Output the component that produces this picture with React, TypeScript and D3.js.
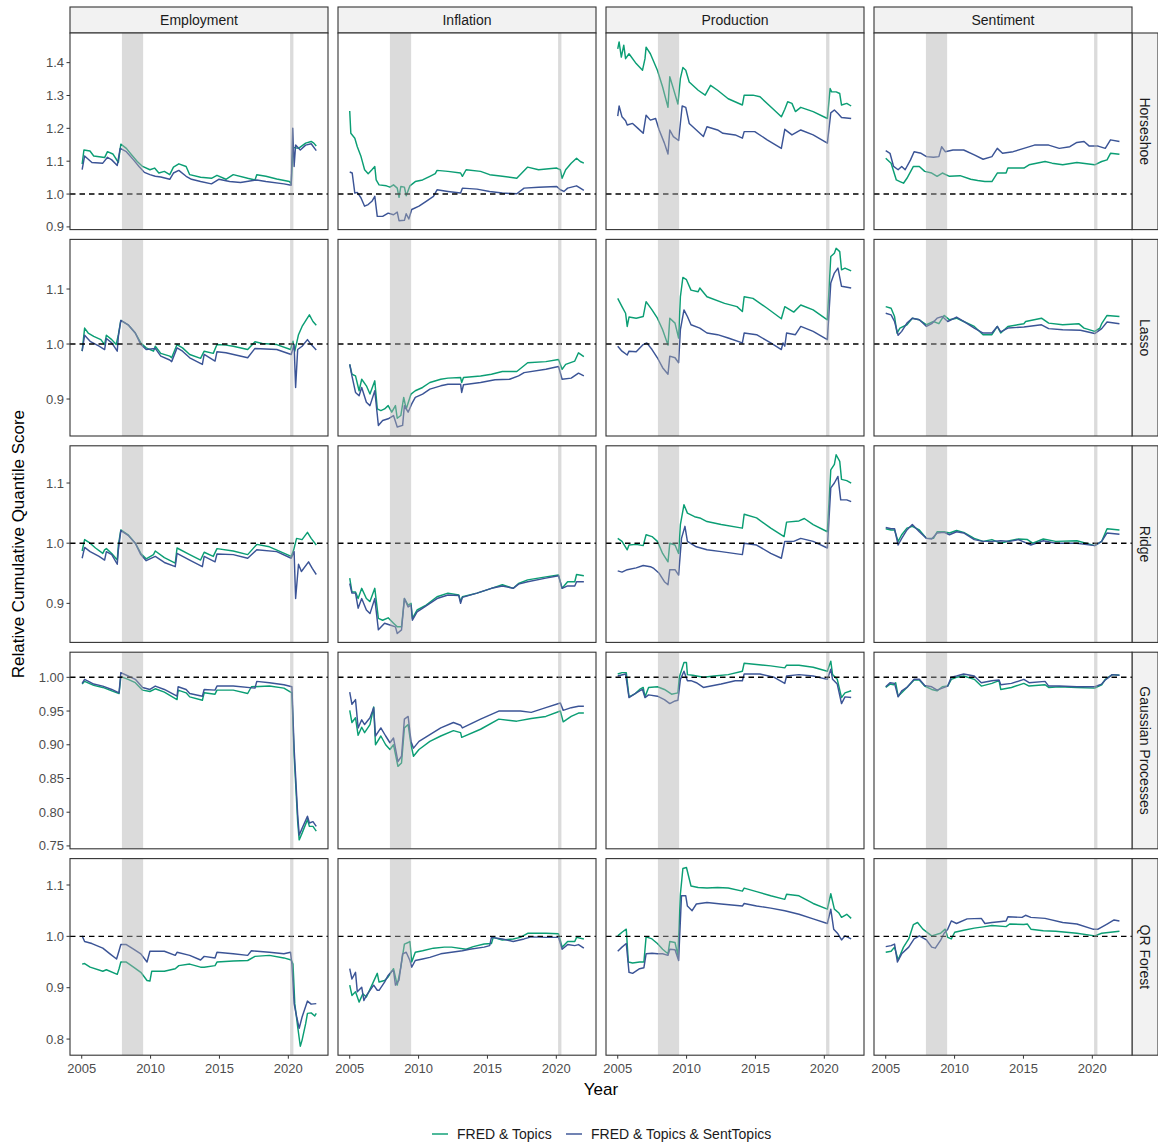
import React from "react";
import * as d3 from "d3";

type P = [number, number];

const COLUMNS = ["Employment", "Inflation", "Production", "Sentiment"];
const ROWS = ["Horseshoe", "Lasso", "Ridge", "Gaussian Processes", "QR Forest"];
const SERIES = ["FRED & Topics", "FRED & Topics & SentTopics"];
const COLORS = ["#0b9e74", "#3b5496"];
const X_TICKS = [2005, 2010, 2015, 2020];
const Y_TICKS = [
  [0.9, 1.0, 1.1, 1.2, 1.3, 1.4],
  [0.9, 1.0, 1.1],
  [0.9, 1.0, 1.1],
  [0.75, 0.8, 0.85, 0.9, 0.95, 1.0],
  [0.8, 0.9, 1.0, 1.1],
];
const Y_DECIMALS = [1, 1, 1, 2, 1];
const RECESSIONS: [number, number][] = [[2007.92, 2009.46], [2020.13, 2020.37]];
const REFERENCE = 1.0;

// ---------- Horseshoe ----------
const hsEmpFT: P[] = [[2005.03,1.091],[2005.16,1.134],[2005.6,1.131],[2005.87,1.116],[2006.66,1.111],[2006.87,1.129],[2007.26,1.122],[2007.66,1.096],[2007.84,1.152],[2008.24,1.139],[2008.63,1.119],[2009.03,1.099],[2009.42,1.084],[2009.95,1.074],[2010.29,1.079],[2010.6,1.064],[2011.0,1.069],[2011.39,1.059],[2011.66,1.082],[2012.05,1.092],[2012.58,1.084],[2012.84,1.059],[2013.63,1.051],[2014.42,1.048],[2014.82,1.057],[2015.47,1.045],[2016.0,1.059],[2017.05,1.048],[2017.58,1.043],[2017.71,1.059],[2018.37,1.054],[2019.16,1.046],[2020.08,1.038],[2020.21,1.031],[2020.34,1.142],[2020.74,1.139],[2021.26,1.155],[2021.66,1.16],[2021.85,1.155],[2022.03,1.146]];
const hsEmpFTS: P[] = [[2005.03,1.074],[2005.21,1.116],[2005.74,1.096],[2006.53,1.094],[2006.87,1.112],[2007.18,1.104],[2007.58,1.087],[2007.79,1.139],[2008.24,1.129],[2008.76,1.104],[2009.16,1.084],[2009.55,1.066],[2009.95,1.059],[2010.34,1.054],[2010.74,1.052],[2011.39,1.045],[2011.66,1.064],[2012.05,1.072],[2012.58,1.054],[2012.97,1.045],[2013.63,1.038],[2014.42,1.031],[2014.95,1.045],[2015.74,1.038],[2016.53,1.035],[2017.71,1.043],[2018.37,1.038],[2019.68,1.031],[2020.21,1.027],[2020.32,1.2],[2020.42,1.084],[2020.53,1.149],[2020.87,1.134],[2021.26,1.149],[2021.66,1.153],[2022.03,1.132]];
const hsInfFT: P[] = [[2005.0,1.253],[2005.08,1.185],[2005.37,1.17],[2005.55,1.144],[2005.82,1.114],[2006.08,1.074],[2006.34,1.062],[2006.61,1.074],[2006.82,1.084],[2006.92,1.043],[2007.13,1.028],[2007.66,1.025],[2007.92,1.021],[2008.18,1.028],[2008.45,1.018],[2008.58,0.99],[2008.71,1.023],[2008.97,1.021],[2009.1,0.995],[2009.37,1.025],[2009.76,1.038],[2010.29,1.043],[2010.82,1.054],[2011.21,1.062],[2011.34,1.072],[2012.13,1.069],[2013.05,1.064],[2013.18,1.054],[2013.45,1.074],[2014.5,1.069],[2015.16,1.059],[2016.08,1.054],[2017.13,1.048],[2017.92,1.082],[2018.71,1.074],[2020.03,1.079],[2020.29,1.074],[2020.42,1.048],[2020.68,1.074],[2021.08,1.094],[2021.47,1.109],[2021.74,1.099],[2022.0,1.094]];
const hsInfFTS: P[] = [[2005.0,1.067],[2005.18,1.064],[2005.37,1.003],[2005.55,1.005],[2005.82,0.988],[2006.08,0.963],[2006.34,0.968],[2006.61,0.978],[2006.82,0.993],[2007.0,0.932],[2007.39,0.932],[2007.79,0.942],[2008.18,0.937],[2008.45,0.945],[2008.58,0.919],[2008.97,0.92],[2009.1,0.94],[2009.29,0.924],[2009.5,0.953],[2010.03,0.963],[2010.55,0.978],[2011.08,0.993],[2011.34,1.013],[2012.13,1.008],[2013.05,1.003],[2013.18,1.018],[2014.24,1.015],[2015.16,1.008],[2016.08,1.003],[2017.13,1.001],[2017.66,1.018],[2018.71,1.021],[2020.03,1.023],[2020.29,1.013],[2020.55,1.008],[2020.82,1.018],[2021.47,1.025],[2021.74,1.018],[2022.0,1.011]];
const hsProdFT: P[] = [[2005.0,1.442],[2005.1,1.463],[2005.26,1.417],[2005.44,1.453],[2005.57,1.412],[2005.82,1.427],[2006.34,1.397],[2006.8,1.377],[2006.98,1.412],[2007.06,1.447],[2007.37,1.427],[2007.88,1.377],[2008.26,1.326],[2008.65,1.264],[2008.78,1.357],[2009.04,1.321],[2009.37,1.274],[2009.55,1.352],[2009.73,1.385],[2009.94,1.377],[2010.19,1.341],[2010.84,1.316],[2011.35,1.301],[2011.74,1.331],[2012.25,1.316],[2013.02,1.29],[2014.05,1.271],[2014.18,1.301],[2014.82,1.301],[2015.33,1.296],[2016.36,1.256],[2016.88,1.235],[2017.13,1.258],[2017.34,1.281],[2017.65,1.276],[2017.9,1.251],[2018.29,1.264],[2019.19,1.251],[2020.22,1.23],[2020.42,1.321],[2020.53,1.311],[2020.86,1.311],[2021.12,1.306],[2021.25,1.271],[2021.63,1.276],[2021.95,1.268]];
const hsProdFTS: P[] = [[2005.0,1.237],[2005.1,1.268],[2005.31,1.235],[2005.57,1.223],[2005.69,1.21],[2006.08,1.215],[2006.47,1.2],[2006.85,1.185],[2007.06,1.24],[2007.37,1.225],[2007.75,1.23],[2008.01,1.195],[2008.39,1.155],[2008.65,1.122],[2008.78,1.195],[2009.04,1.175],[2009.42,1.163],[2009.68,1.268],[2009.94,1.264],[2010.19,1.215],[2010.45,1.205],[2011.22,1.175],[2011.48,1.205],[2012.25,1.195],[2012.64,1.185],[2013.53,1.18],[2014.05,1.17],[2014.18,1.19],[2014.95,1.19],[2015.85,1.165],[2016.88,1.139],[2017.13,1.197],[2017.65,1.18],[2018.29,1.195],[2019.19,1.18],[2020.22,1.155],[2020.47,1.247],[2020.73,1.256],[2020.99,1.245],[2021.25,1.233],[2021.95,1.23]];
const hsSentFT: P[] = [[2005.0,1.109],[2005.39,1.094],[2005.77,1.043],[2006.03,1.038],[2006.29,1.033],[2006.54,1.048],[2007.01,1.084],[2007.44,1.084],[2007.83,1.069],[2008.34,1.064],[2008.73,1.054],[2009.11,1.064],[2009.63,1.054],[2010.4,1.056],[2011.17,1.045],[2011.68,1.041],[2012.2,1.038],[2012.71,1.038],[2013.1,1.064],[2013.74,1.064],[2013.87,1.079],[2015.03,1.079],[2015.41,1.089],[2016.57,1.099],[2017.08,1.094],[2017.85,1.089],[2018.88,1.096],[2020.17,1.089],[2020.68,1.099],[2021.07,1.104],[2021.32,1.124],[2021.97,1.121]];
const hsSentFTS: P[] = [[2005.0,1.132],[2005.31,1.124],[2005.57,1.084],[2005.9,1.074],[2006.16,1.084],[2006.41,1.074],[2006.8,1.104],[2007.06,1.129],[2007.57,1.124],[2007.96,1.114],[2008.47,1.112],[2008.86,1.114],[2009.06,1.144],[2009.32,1.129],[2009.88,1.134],[2010.66,1.134],[2011.43,1.119],[2012.07,1.106],[2012.71,1.114],[2013.1,1.139],[2013.48,1.124],[2014.25,1.129],[2015.03,1.139],[2015.8,1.149],[2016.83,1.149],[2017.6,1.139],[2018.37,1.144],[2018.88,1.157],[2019.4,1.16],[2019.78,1.146],[2020.42,1.146],[2020.94,1.139],[2021.32,1.165],[2021.97,1.16]];

// ---------- Lasso ----------
const laEmpFT: P[] = [[2005.03,0.987],[2005.21,1.029],[2005.47,1.02],[2005.87,1.014],[2006.39,1.008],[2006.66,0.999],[2006.79,1.016],[2007.18,1.008],[2007.5,0.999],[2007.66,1.017],[2007.84,1.043],[2008.37,1.035],[2008.89,1.02],[2009.29,1.002],[2009.68,0.993],[2010.21,0.987],[2010.34,0.996],[2010.74,0.983],[2011.39,0.978],[2011.53,0.975],[2011.92,0.999],[2012.32,0.993],[2012.84,0.981],[2013.63,0.974],[2013.89,0.987],[2014.55,0.983],[2014.82,0.999],[2015.47,0.998],[2016.0,0.996],[2017.05,0.99],[2017.58,1.004],[2018.11,1.001],[2019.16,0.999],[2020.16,0.99],[2020.34,1.005],[2020.47,0.987],[2020.74,1.017],[2021.0,1.032],[2021.53,1.053],[2021.79,1.041],[2022.03,1.034]];
const laEmpFTS: P[] = [[2005.03,0.987],[2005.21,1.016],[2005.61,1.005],[2006.26,0.996],[2006.66,0.99],[2006.79,1.01],[2007.18,1.002],[2007.58,0.987],[2007.66,1.014],[2007.84,1.043],[2008.37,1.035],[2008.89,1.02],[2009.29,0.999],[2009.68,0.99],[2010.34,0.992],[2010.74,0.978],[2011.39,0.971],[2011.53,0.968],[2011.92,0.993],[2012.32,0.987],[2012.84,0.975],[2013.76,0.963],[2013.89,0.981],[2014.68,0.969],[2014.82,0.986],[2015.47,0.984],[2017.05,0.975],[2017.58,0.992],[2019.16,0.99],[2020.21,0.981],[2020.42,0.999],[2020.53,0.921],[2020.68,0.99],[2021.0,0.996],[2021.39,1.008],[2021.66,0.999],[2022.03,0.989]];
const laInfFT: P[] = [[2005.0,0.963],[2005.16,0.945],[2005.42,0.942],[2005.68,0.915],[2005.87,0.936],[2006.21,0.924],[2006.47,0.909],[2006.82,0.933],[2007.0,0.882],[2007.26,0.879],[2007.53,0.882],[2007.79,0.888],[2008.05,0.876],[2008.32,0.888],[2008.45,0.865],[2008.71,0.87],[2008.92,0.903],[2009.1,0.882],[2009.45,0.909],[2009.76,0.915],[2010.29,0.921],[2010.82,0.93],[2011.61,0.936],[2012.13,0.938],[2013.05,0.939],[2013.13,0.93],[2013.26,0.939],[2014.5,0.942],[2015.29,0.945],[2016.08,0.95],[2017.13,0.95],[2017.92,0.966],[2019.24,0.968],[2020.16,0.972],[2020.42,0.954],[2020.68,0.963],[2021.34,0.969],[2021.61,0.984],[2022.0,0.977]];
const laInfFTS: P[] = [[2005.0,0.963],[2005.16,0.942],[2005.42,0.912],[2005.68,0.906],[2005.87,0.921],[2006.21,0.894],[2006.47,0.888],[2006.82,0.915],[2007.08,0.852],[2007.39,0.861],[2007.79,0.864],[2008.18,0.87],[2008.45,0.849],[2008.84,0.852],[2008.97,0.888],[2009.24,0.876],[2009.5,0.891],[2009.76,0.903],[2010.29,0.909],[2010.82,0.918],[2011.61,0.924],[2012.13,0.927],[2013.05,0.927],[2013.13,0.912],[2013.26,0.926],[2014.5,0.93],[2015.55,0.935],[2016.61,0.936],[2017.26,0.942],[2017.66,0.948],[2019.24,0.954],[2020.16,0.959],[2020.42,0.936],[2021.08,0.938],[2021.61,0.947],[2022.0,0.942]];
const laProdFT: P[] = [[2005.0,1.083],[2005.31,1.068],[2005.57,1.056],[2005.69,1.032],[2005.82,1.049],[2006.34,1.047],[2006.85,1.05],[2007.06,1.077],[2007.49,1.062],[2007.88,1.047],[2008.26,1.026],[2008.65,0.998],[2008.78,1.047],[2009.16,1.038],[2009.42,1.011],[2009.55,1.086],[2009.73,1.121],[2009.99,1.117],[2010.32,1.098],[2010.84,1.095],[2010.96,1.102],[2011.48,1.086],[2012.76,1.074],[2013.66,1.068],[2014.05,1.059],[2014.18,1.086],[2014.82,1.083],[2015.85,1.065],[2016.88,1.046],[2017.13,1.068],[2017.78,1.058],[2018.29,1.071],[2019.19,1.062],[2020.22,1.044],[2020.47,1.159],[2020.73,1.165],[2020.86,1.174],[2021.12,1.168],[2021.25,1.135],[2021.5,1.138],[2021.95,1.133]];
const laProdFTS: P[] = [[2005.0,0.996],[2005.31,0.987],[2005.69,0.98],[2005.82,0.987],[2006.34,0.986],[2006.85,0.999],[2007.11,1.002],[2007.49,0.99],[2007.88,0.975],[2008.26,0.957],[2008.65,0.945],[2008.78,0.978],[2009.16,0.975],[2009.42,0.966],[2009.55,1.026],[2009.81,1.062],[2010.06,1.05],[2010.32,1.035],[2010.96,1.029],[2011.48,1.02],[2012.25,1.017],[2013.02,1.011],[2014.05,1.002],[2014.18,1.02],[2015.08,1.017],[2016.11,1.002],[2016.88,0.99],[2017.0,1.002],[2017.13,0.996],[2017.26,1.02],[2017.9,1.017],[2018.29,1.032],[2019.19,1.023],[2020.22,1.008],[2020.47,1.111],[2020.73,1.129],[2020.99,1.138],[2021.25,1.105],[2021.95,1.102]];
const laSentFT: P[] = [[2005.0,1.068],[2005.39,1.065],[2005.64,1.05],[2005.82,1.02],[2006.03,1.029],[2006.54,1.035],[2006.93,1.047],[2007.44,1.044],[2007.96,1.035],[2008.47,1.041],[2008.86,1.037],[2009.24,1.052],[2009.63,1.044],[2010.14,1.047],[2010.66,1.041],[2011.43,1.032],[2012.07,1.017],[2012.71,1.017],[2013.1,1.032],[2013.35,1.02],[2013.87,1.032],[2015.03,1.037],[2015.16,1.041],[2016.31,1.047],[2016.83,1.038],[2017.85,1.035],[2019.01,1.037],[2019.4,1.029],[2020.17,1.023],[2020.55,1.029],[2020.68,1.037],[2021.07,1.052],[2021.97,1.05]];
const laSentFTS: P[] = [[2005.0,1.056],[2005.39,1.053],[2005.64,1.041],[2005.9,1.016],[2006.16,1.023],[2006.54,1.038],[2006.93,1.047],[2007.44,1.044],[2007.96,1.032],[2008.34,1.037],[2008.73,1.047],[2009.11,1.05],[2009.5,1.041],[2010.14,1.049],[2010.66,1.041],[2011.43,1.029],[2012.07,1.02],[2012.71,1.02],[2013.1,1.032],[2013.35,1.022],[2013.87,1.029],[2015.03,1.031],[2016.31,1.035],[2016.83,1.028],[2017.85,1.026],[2019.14,1.025],[2020.17,1.019],[2020.68,1.028],[2021.07,1.04],[2021.97,1.037]];

// ---------- Ridge ----------
const riEmpFT: P[] = [[2005.03,0.987],[2005.21,1.006],[2005.61,1.0],[2006.0,0.992],[2006.53,0.983],[2006.66,0.989],[2006.79,0.991],[2007.18,0.983],[2007.58,0.972],[2007.66,0.997],[2007.84,1.022],[2008.37,1.014],[2008.89,1.0],[2009.29,0.983],[2009.68,0.974],[2010.21,0.981],[2010.34,0.987],[2011.0,0.976],[2011.79,0.967],[2011.92,0.992],[2012.84,0.981],[2013.63,0.972],[2013.89,0.985],[2014.55,0.978],[2014.82,0.991],[2016.0,0.987],[2017.05,0.981],[2017.71,0.998],[2018.63,0.994],[2020.21,0.978],[2020.39,0.989],[2020.6,1.008],[2021.0,1.006],[2021.39,1.018],[2021.66,1.008],[2022.03,0.997]];
const riEmpFTS: P[] = [[2005.03,0.975],[2005.21,0.993],[2005.61,0.986],[2006.26,0.978],[2006.66,0.972],[2006.79,0.986],[2007.18,0.981],[2007.58,0.965],[2007.66,0.989],[2007.84,1.021],[2008.37,1.013],[2008.89,1.0],[2009.29,0.981],[2009.68,0.971],[2010.34,0.978],[2011.0,0.968],[2011.79,0.961],[2011.92,0.983],[2012.84,0.972],[2013.76,0.961],[2013.89,0.978],[2014.68,0.969],[2014.82,0.982],[2016.0,0.981],[2017.05,0.975],[2017.71,0.989],[2019.16,0.986],[2020.21,0.975],[2020.42,0.986],[2020.53,0.908],[2020.74,0.965],[2020.95,0.953],[2021.47,0.969],[2021.74,0.958],[2022.03,0.948]];
const riInfFT: P[] = [[2005.0,0.942],[2005.16,0.919],[2005.42,0.919],[2005.61,0.908],[2005.87,0.925],[2006.21,0.908],[2006.47,0.903],[2006.82,0.925],[2007.08,0.875],[2007.39,0.872],[2007.79,0.876],[2008.18,0.867],[2008.45,0.861],[2008.76,0.861],[2008.97,0.908],[2009.24,0.897],[2009.45,0.9],[2009.55,0.875],[2009.89,0.889],[2010.55,0.897],[2011.34,0.911],[2012.13,0.917],[2012.92,0.914],[2013.05,0.903],[2013.18,0.911],[2014.24,0.917],[2015.29,0.925],[2016.08,0.931],[2016.87,0.925],[2017.26,0.933],[2017.92,0.939],[2019.24,0.944],[2020.16,0.947],[2020.42,0.925],[2020.82,0.936],[2021.34,0.936],[2021.47,0.948],[2022.0,0.946]];
const riInfFTS: P[] = [[2005.0,0.933],[2005.16,0.917],[2005.42,0.917],[2005.61,0.892],[2005.87,0.908],[2006.21,0.889],[2006.47,0.883],[2006.82,0.908],[2007.08,0.856],[2007.53,0.867],[2007.92,0.864],[2008.32,0.861],[2008.45,0.85],[2008.76,0.856],[2008.97,0.908],[2009.24,0.894],[2009.45,0.897],[2009.55,0.872],[2009.89,0.886],[2010.55,0.896],[2011.34,0.908],[2012.13,0.914],[2012.92,0.913],[2013.05,0.9],[2013.18,0.91],[2014.24,0.917],[2015.29,0.925],[2016.08,0.929],[2016.87,0.925],[2017.26,0.932],[2017.92,0.936],[2019.24,0.942],[2020.16,0.946],[2020.42,0.925],[2020.82,0.929],[2021.34,0.929],[2021.47,0.936],[2022.0,0.936]];
const riProdFT: P[] = [[2005.0,1.008],[2005.31,1.003],[2005.69,0.989],[2005.82,0.997],[2006.34,0.998],[2006.85,0.996],[2007.06,1.014],[2007.49,1.011],[2007.88,1.003],[2008.26,0.983],[2008.65,0.969],[2008.78,1.0],[2009.16,0.997],[2009.42,0.983],[2009.55,1.031],[2009.81,1.064],[2010.06,1.05],[2010.58,1.044],[2010.96,1.042],[2011.48,1.036],[2012.51,1.031],[2014.05,1.025],[2014.18,1.048],[2015.08,1.042],[2016.11,1.025],[2017.08,1.011],[2017.26,1.035],[2018.16,1.037],[2018.55,1.041],[2019.19,1.031],[2020.22,1.019],[2020.47,1.122],[2020.73,1.131],[2020.86,1.147],[2021.12,1.136],[2021.25,1.106],[2021.63,1.104],[2021.95,1.1]];
const riProdFTS: P[] = [[2005.0,0.954],[2005.31,0.952],[2005.69,0.956],[2006.34,0.959],[2006.85,0.963],[2007.37,0.961],[2007.62,0.958],[2008.01,0.95],[2008.39,0.936],[2008.65,0.931],[2008.78,0.956],[2009.16,0.956],[2009.42,0.947],[2009.63,1.008],[2009.88,1.028],[2010.06,1.003],[2010.71,0.994],[2011.48,0.989],[2012.51,0.986],[2014.05,0.981],[2014.18,1.0],[2015.08,0.997],[2016.11,0.983],[2016.88,0.975],[2017.13,1.003],[2017.78,1.003],[2018.29,1.008],[2019.19,1.003],[2020.22,0.992],[2020.47,1.092],[2020.73,1.1],[2020.99,1.111],[2021.19,1.072],[2021.63,1.072],[2021.95,1.069]];
const riSentFT: P[] = [[2005.0,1.024],[2005.39,1.022],[2005.64,1.022],[2005.9,1.003],[2006.16,1.014],[2006.54,1.025],[2006.93,1.028],[2007.44,1.022],[2007.96,1.008],[2008.47,1.008],[2008.73,1.019],[2009.24,1.019],[2009.63,1.017],[2010.14,1.021],[2010.66,1.018],[2011.43,1.008],[2012.07,1.003],[2012.71,1.006],[2013.35,1.0],[2013.99,1.004],[2014.64,1.007],[2015.29,1.006],[2015.67,1.0],[2016.44,1.007],[2017.34,1.003],[2018.88,1.004],[2020.17,0.996],[2020.68,1.003],[2021.07,1.024],[2021.97,1.022]];
const riSentFTS: P[] = [[2005.0,1.026],[2005.39,1.024],[2005.64,1.024],[2005.9,0.997],[2006.16,1.008],[2006.54,1.022],[2006.93,1.031],[2007.44,1.019],[2007.96,1.008],[2008.34,1.007],[2008.73,1.017],[2009.24,1.018],[2009.63,1.014],[2010.14,1.019],[2010.66,1.017],[2011.43,1.006],[2012.07,1.003],[2012.71,1.003],[2013.35,1.004],[2013.99,1.003],[2014.64,1.006],[2015.54,0.997],[2016.44,1.004],[2017.34,1.0],[2018.88,1.0],[2020.17,0.996],[2020.68,1.003],[2021.07,1.017],[2021.97,1.015]];

// ---------- Gaussian Processes ----------
const gpEmpFT: P[] = [[2005.03,0.99],[2005.21,0.994],[2005.87,0.988],[2006.53,0.985],[2007.18,0.98],[2007.71,0.976],[2007.84,1.001],[2008.37,0.997],[2008.89,0.992],[2009.42,0.981],[2009.95,0.979],[2010.34,0.983],[2011.0,0.978],[2011.92,0.967],[2012.0,0.981],[2012.58,0.977],[2012.84,0.971],[2013.76,0.966],[2013.89,0.977],[2014.68,0.975],[2014.82,0.981],[2016.0,0.981],[2017.05,0.976],[2017.32,0.986],[2018.63,0.987],[2019.68,0.984],[2020.26,0.977],[2020.42,0.885],[2020.55,0.836],[2020.68,0.786],[2020.79,0.759],[2021.0,0.769],[2021.39,0.789],[2021.53,0.779],[2021.79,0.779],[2022.03,0.772]];
const gpEmpFTS: P[] = [[2005.03,0.991],[2005.21,0.997],[2005.87,0.99],[2006.53,0.987],[2007.18,0.982],[2007.71,0.977],[2007.84,1.007],[2008.37,1.002],[2008.89,0.997],[2009.42,0.985],[2009.95,0.982],[2010.34,0.987],[2011.0,0.982],[2011.92,0.972],[2012.0,0.986],[2012.58,0.982],[2012.84,0.976],[2013.76,0.972],[2013.89,0.982],[2014.68,0.981],[2014.82,0.987],[2016.0,0.987],[2017.58,0.984],[2017.71,0.994],[2018.63,0.992],[2019.68,0.989],[2020.26,0.986],[2020.42,0.895],[2020.55,0.846],[2020.68,0.796],[2020.79,0.766],[2021.0,0.776],[2021.39,0.794],[2021.53,0.784],[2021.79,0.786],[2022.03,0.779]];
const gpInfFT: P[] = [[2005.0,0.951],[2005.16,0.933],[2005.42,0.94],[2005.61,0.914],[2005.87,0.926],[2006.08,0.918],[2006.47,0.93],[2006.74,0.956],[2006.87,0.9],[2007.26,0.913],[2007.61,0.9],[2007.92,0.893],[2008.18,0.9],[2008.5,0.868],[2008.76,0.873],[2008.97,0.925],[2009.24,0.93],[2009.45,0.9],[2009.63,0.883],[2010.03,0.893],[2010.82,0.905],[2011.61,0.913],[2012.53,0.921],[2013.05,0.918],[2013.13,0.911],[2014.5,0.923],[2015.82,0.938],[2017.13,0.935],[2018.18,0.939],[2019.24,0.942],[2020.29,0.95],[2020.5,0.934],[2021.08,0.942],[2021.61,0.947],[2022.0,0.947]];
const gpInfFTS: P[] = [[2005.0,0.978],[2005.16,0.96],[2005.42,0.967],[2005.61,0.925],[2005.87,0.937],[2006.08,0.93],[2006.47,0.94],[2006.74,0.955],[2006.87,0.913],[2007.26,0.925],[2007.61,0.913],[2007.92,0.903],[2008.18,0.91],[2008.5,0.875],[2008.76,0.883],[2008.97,0.938],[2009.24,0.942],[2009.45,0.905],[2009.63,0.895],[2010.03,0.905],[2010.82,0.915],[2011.61,0.925],[2012.53,0.933],[2013.05,0.929],[2013.18,0.925],[2014.5,0.938],[2015.82,0.95],[2017.39,0.95],[2018.18,0.948],[2019.24,0.955],[2020.29,0.962],[2020.5,0.951],[2021.08,0.955],[2021.61,0.957],[2022.0,0.957]];
const gpProdFT: P[] = [[2005.0,1.005],[2005.31,1.007],[2005.62,1.007],[2005.82,0.971],[2006.21,0.975],[2006.59,0.982],[2006.85,0.985],[2006.98,0.971],[2007.24,0.985],[2007.88,0.986],[2008.39,0.982],[2008.91,0.975],[2009.37,0.977],[2009.47,1.0],[2009.81,1.022],[2009.99,1.022],[2010.06,1.004],[2010.45,1.003],[2011.22,1.0],[2011.99,1.002],[2013.02,1.004],[2014.05,1.009],[2014.18,1.021],[2015.08,1.019],[2016.11,1.017],[2017.13,1.014],[2017.26,1.018],[2018.16,1.018],[2019.19,1.015],[2020.22,1.009],[2020.47,1.024],[2020.6,1.004],[2020.94,0.997],[2021.25,0.97],[2021.5,0.977],[2021.95,0.98]];
const gpProdFTS: P[] = [[2005.0,1.002],[2005.57,1.005],[2005.82,0.97],[2006.21,0.975],[2006.59,0.98],[2006.8,0.982],[2006.98,0.97],[2007.24,0.974],[2007.88,0.972],[2008.39,0.967],[2008.78,0.961],[2009.16,0.965],[2009.37,0.966],[2009.55,0.997],[2009.81,1.009],[2010.06,0.995],[2010.32,0.995],[2010.71,0.992],[2011.22,0.985],[2011.48,0.986],[2012.51,0.99],[2013.53,0.995],[2014.05,0.995],[2014.18,1.005],[2015.33,1.005],[2016.36,1.0],[2017.13,0.991],[2017.26,1.002],[2018.16,1.004],[2019.19,1.002],[2020.22,0.997],[2020.47,1.012],[2020.6,0.997],[2020.94,0.99],[2021.25,0.961],[2021.5,0.971],[2021.95,0.97]];
const gpSentFT: P[] = [[2005.0,0.985],[2005.31,0.99],[2005.57,0.989],[2005.72,0.992],[2005.9,0.972],[2006.16,0.977],[2006.54,0.985],[2007.06,0.996],[2007.44,0.996],[2007.83,0.987],[2008.34,0.982],[2008.73,0.98],[2009.11,0.986],[2009.5,0.987],[2009.76,0.997],[2010.14,1.0],[2010.66,1.002],[2011.43,0.997],[2011.94,0.987],[2012.71,0.991],[2013.23,0.995],[2013.35,0.982],[2014.13,0.985],[2015.03,0.991],[2015.41,0.987],[2016.57,0.989],[2016.83,0.985],[2017.6,0.986],[2018.88,0.985],[2020.17,0.984],[2020.68,0.989],[2020.94,0.997],[2021.45,1.004],[2021.97,1.003]];
const gpSentFTS: P[] = [[2005.0,0.986],[2005.31,0.992],[2005.64,0.991],[2005.9,0.971],[2006.16,0.98],[2006.54,0.985],[2007.06,0.997],[2007.44,0.997],[2007.83,0.988],[2008.34,0.986],[2008.73,0.981],[2009.11,0.984],[2009.5,0.987],[2009.76,1.0],[2010.14,1.002],[2010.66,1.005],[2011.43,1.002],[2011.94,0.992],[2012.71,0.995],[2013.23,0.996],[2013.35,0.989],[2014.13,0.991],[2015.03,0.997],[2015.41,0.992],[2016.57,0.994],[2016.83,0.987],[2017.6,0.987],[2018.88,0.986],[2020.17,0.986],[2020.68,0.99],[2020.94,0.996],[2021.45,1.004],[2021.97,1.003]];

// ---------- QR Forest ----------
const qrEmpFT: P[] = [[2005.03,0.946],[2005.21,0.947],[2005.61,0.94],[2006.53,0.932],[2006.79,0.935],[2007.58,0.926],[2007.71,0.937],[2007.84,0.95],[2008.24,0.95],[2008.76,0.94],[2009.29,0.93],[2009.74,0.914],[2009.95,0.913],[2010.08,0.932],[2011.0,0.932],[2011.79,0.937],[2012.05,0.943],[2012.84,0.946],[2013.63,0.94],[2013.89,0.94],[2014.68,0.943],[2014.82,0.95],[2016.0,0.952],[2017.05,0.953],[2017.58,0.961],[2018.63,0.963],[2019.68,0.958],[2020.21,0.954],[2020.34,0.946],[2020.47,0.869],[2020.68,0.824],[2020.87,0.786],[2021.0,0.798],[2021.26,0.83],[2021.39,0.85],[2021.66,0.851],[2021.92,0.845],[2022.03,0.85]];
const qrEmpFTS: P[] = [[2005.03,1.001],[2005.21,0.99],[2005.74,0.986],[2006.53,0.977],[2007.05,0.966],[2007.53,0.956],[2007.71,0.972],[2007.84,0.984],[2008.24,0.984],[2008.76,0.975],[2009.29,0.966],[2009.74,0.95],[2009.95,0.971],[2011.0,0.971],[2011.79,0.963],[2011.92,0.969],[2012.84,0.963],[2013.63,0.954],[2013.89,0.961],[2014.68,0.958],[2014.82,0.969],[2016.0,0.966],[2017.05,0.963],[2017.32,0.972],[2018.63,0.969],[2019.68,0.966],[2020.16,0.969],[2020.26,0.946],[2020.42,0.869],[2020.61,0.843],[2020.79,0.821],[2021.0,0.843],[2021.39,0.874],[2021.66,0.868],[2022.03,0.869]];
const qrInfFT: P[] = [[2005.0,0.905],[2005.16,0.885],[2005.42,0.892],[2005.68,0.872],[2005.95,0.888],[2006.21,0.882],[2006.61,0.905],[2007.0,0.928],[2007.13,0.911],[2007.53,0.914],[2007.79,0.921],[2008.18,0.937],[2008.45,0.905],[2008.71,0.94],[2008.97,0.985],[2009.24,0.988],[2009.37,0.99],[2009.5,0.95],[2009.76,0.969],[2010.29,0.972],[2011.08,0.977],[2011.87,0.979],[2012.39,0.979],[2013.45,0.975],[2013.97,0.98],[2014.76,0.985],[2015.29,0.986],[2015.42,0.998],[2016.08,0.993],[2016.87,0.995],[2017.39,0.998],[2017.92,1.006],[2019.24,1.006],[2020.16,1.005],[2020.42,0.979],[2020.82,0.99],[2021.34,0.99],[2021.47,0.998],[2022.0,0.995]];
const qrInfFTS: P[] = [[2005.0,0.937],[2005.16,0.917],[2005.42,0.93],[2005.55,0.892],[2005.87,0.901],[2006.03,0.875],[2006.21,0.885],[2006.74,0.905],[2007.0,0.895],[2007.13,0.895],[2007.53,0.911],[2007.79,0.924],[2008.05,0.932],[2008.18,0.933],[2008.32,0.905],[2008.58,0.915],[2008.84,0.966],[2009.1,0.969],[2009.37,0.953],[2009.5,0.94],[2009.76,0.953],[2010.29,0.956],[2010.82,0.959],[2011.61,0.966],[2012.39,0.969],[2013.18,0.972],[2013.71,0.975],[2014.76,0.979],[2015.16,0.982],[2015.29,0.998],[2016.08,0.995],[2016.87,0.99],[2017.66,0.995],[2018.18,0.999],[2019.24,0.998],[2020.16,0.998],[2020.42,0.975],[2020.82,0.984],[2021.34,0.982],[2021.61,0.984],[2022.0,0.977]];
const qrProdFT: P[] = [[2005.0,1.001],[2005.31,1.008],[2005.62,1.014],[2005.77,0.95],[2006.08,0.948],[2006.59,0.95],[2006.9,0.95],[2007.06,0.999],[2007.49,0.995],[2007.88,0.986],[2008.26,0.975],[2008.65,0.966],[2008.78,0.99],[2009.16,0.988],[2009.37,0.963],[2009.55,1.082],[2009.73,1.132],[2009.99,1.134],[2010.32,1.098],[2010.84,1.095],[2011.48,1.094],[2012.25,1.095],[2013.02,1.094],[2014.05,1.088],[2014.18,1.094],[2015.08,1.087],[2016.11,1.079],[2017.13,1.072],[2017.26,1.082],[2018.16,1.079],[2019.19,1.064],[2020.22,1.053],[2020.47,1.083],[2020.73,1.053],[2021.04,1.046],[2021.25,1.037],[2021.63,1.043],[2021.95,1.035]];
const qrProdFTS: P[] = [[2005.0,0.971],[2005.31,0.979],[2005.62,0.986],[2005.82,0.93],[2006.08,0.928],[2006.59,0.937],[2006.9,0.939],[2007.06,0.966],[2007.49,0.967],[2007.88,0.966],[2008.26,0.966],[2008.65,0.963],[2008.78,0.975],[2009.16,0.974],[2009.42,0.953],[2009.63,1.079],[2009.94,1.079],[2010.06,1.059],[2010.4,1.05],[2010.71,1.063],[2011.48,1.066],[2012.51,1.063],[2014.05,1.059],[2014.18,1.064],[2015.08,1.059],[2016.11,1.055],[2017.13,1.05],[2018.16,1.043],[2019.19,1.034],[2020.22,1.025],[2020.47,1.053],[2020.68,1.014],[2020.99,1.005],[2021.25,0.993],[2021.5,1.001],[2021.95,0.995]];
const qrSentFT: P[] = [[2005.0,0.969],[2005.39,0.971],[2005.64,0.979],[2005.9,0.954],[2006.29,0.979],[2006.67,0.995],[2007.01,1.023],[2007.31,1.027],[2007.7,1.014],[2008.34,1.001],[2008.98,1.006],[2009.32,1.014],[2009.5,0.998],[2009.76,0.995],[2010.01,1.008],[2010.66,1.012],[2011.43,1.016],[2012.2,1.019],[2012.71,1.021],[2013.74,1.019],[2014.0,1.024],[2015.03,1.023],[2015.29,1.024],[2015.54,1.014],[2016.44,1.011],[2017.34,1.01],[2018.88,1.006],[2020.17,1.001],[2020.68,1.006],[2021.32,1.008],[2021.97,1.01]];
const qrSentFTS: P[] = [[2005.0,0.98],[2005.39,0.982],[2005.64,0.985],[2005.85,0.95],[2006.16,0.966],[2006.67,0.979],[2007.06,0.995],[2007.44,1.001],[2007.96,0.993],[2008.34,0.979],[2008.6,0.977],[2008.98,0.992],[2009.24,1.006],[2009.5,1.014],[2009.76,1.03],[2010.14,1.025],[2010.91,1.034],[2011.94,1.035],[2012.2,1.025],[2012.71,1.027],[2013.74,1.03],[2013.87,1.038],[2014.9,1.037],[2015.15,1.041],[2015.54,1.037],[2016.57,1.035],[2017.85,1.027],[2018.88,1.024],[2020.04,1.014],[2020.42,1.014],[2021.07,1.024],[2021.58,1.032],[2021.97,1.03]];

const DATA: P[][][][] = [
  [[hsEmpFT, hsEmpFTS], [hsInfFT, hsInfFTS], [hsProdFT, hsProdFTS], [hsSentFT, hsSentFTS]],
  [[laEmpFT, laEmpFTS], [laInfFT, laInfFTS], [laProdFT, laProdFTS], [laSentFT, laSentFTS]],
  [[riEmpFT, riEmpFTS], [riInfFT, riInfFTS], [riProdFT, riProdFTS], [riSentFT, riSentFTS]],
  [[gpEmpFT, gpEmpFTS], [gpInfFT, gpInfFTS], [gpProdFT, gpProdFTS], [gpSentFT, gpSentFTS]],
  [[qrEmpFT, qrEmpFTS], [qrInfFT, qrInfFTS], [qrProdFT, qrProdFTS], [qrSentFT, qrSentFTS]],
];

// ---------- layout ----------
const W = 1158;
const H = 1146;
const LEFT = 70;
const PANEL_W = 258;
const GAP_X = 10;
const TOP = 33;
const PANEL_H = 196.6;
const GAP_Y = 9.8;
const STRIP = 26;
const FONT = "'Liberation Sans', Arial, Helvetica, sans-serif";

function expand(ext: [number, number], k = 0.05): [number, number] {
  const r = ext[1] - ext[0];
  return [ext[0] - r * k, ext[1] + r * k];
}

export default function App() {
  const allX = DATA.flat(3).map((p) => p[0]);
  const xDomain = expand(d3.extent(allX) as [number, number]);

  const xScaleFor = (c: number) => {
    const x0 = LEFT + c * (PANEL_W + GAP_X);
    return d3.scaleLinear().domain(xDomain).range([x0, x0 + PANEL_W]);
  };
  const yScaleFor = (r: number) => {
    const vals = DATA[r].flat(2).map((p) => p[1]);
    const y0 = TOP + r * (PANEL_H + GAP_Y);
    return d3.scaleLinear().domain(expand(d3.extent(vals) as [number, number])).range([y0 + PANEL_H, y0]);
  };

  const panelsRight = LEFT + 4 * PANEL_W + 3 * GAP_X;
  const panelsBottom = TOP + 5 * PANEL_H + 4 * GAP_Y;

  return (
    <svg width={W} height={H} style={{ position: "absolute", left: 0, top: 0, background: "#fff" }} fontFamily={FONT}>
      <rect x={0} y={0} width={W} height={H} fill="#ffffff" />
      {COLUMNS.map((name, c) => {
        const xs = xScaleFor(c);
        const [a, b] = xs.range();
        return (
          <g key={"cs" + c}>
            <rect x={a} y={TOP - STRIP} width={b - a} height={STRIP} fill="#f2f2f2" stroke="#333333" strokeWidth={1.1} />
            <text x={(a + b) / 2} y={TOP - STRIP / 2} dy="0.33em" textAnchor="middle" fontSize={14} fill="#1a1a1a">{name}</text>
          </g>
        );
      })}
      {ROWS.map((name, r) => {
        const ys = yScaleFor(r);
        const [b, a] = ys.range();
        const x0 = panelsRight;
        return (
          <g key={"rs" + r}>
            <rect x={x0} y={a} width={STRIP} height={b - a} fill="#f2f2f2" stroke="#333333" strokeWidth={1.1} />
            <text transform={`translate(${x0 + STRIP / 2},${(a + b) / 2}) rotate(90)`} dy="0.35em" textAnchor="middle" fontSize={14} fill="#1a1a1a">{name}</text>
          </g>
        );
      })}
      {ROWS.map((_, r) => {
        const ys = yScaleFor(r);
        const [yb, yt] = ys.range();
        return COLUMNS.map((__, c) => {
          const xs = xScaleFor(c);
          const [xl, xr] = xs.range();
          const line = d3.line<P>().x((d) => xs(d[0])).y((d) => ys(d[1]));
          const clipId = `clip-${r}-${c}`;
          return (
            <g key={`p${r}-${c}`}>
              <defs>
                <clipPath id={clipId}>
                  <rect x={xl} y={yt} width={xr - xl} height={yb - yt} />
                </clipPath>
              </defs>
              <rect x={xl} y={yt} width={xr - xl} height={yb - yt} fill="#ffffff" />
              <g clipPath={`url(#${clipId})`}>
                {DATA[r][c].map((series, s) => (
                  <path key={s} d={line(series) || ""} fill="none" stroke={COLORS[s]} strokeWidth={1.45} strokeLinejoin="round" />
                ))}
                <line x1={xl} x2={xr} y1={ys(REFERENCE)} y2={ys(REFERENCE)} stroke="#000000" strokeWidth={1.4} strokeDasharray="5.5,4" />
                {RECESSIONS.map(([s0, s1], i) => (
                  <rect key={i} x={xs(s0)} y={yt} width={xs(s1) - xs(s0)} height={yb - yt} fill="#b0b0b0" fillOpacity={0.45} />
                ))}
              </g>
              <rect x={xl} y={yt} width={xr - xl} height={yb - yt} fill="none" stroke="#333333" strokeWidth={1.1} />
            </g>
          );
        });
      })}
      {ROWS.map((_, r) => {
        const ys = yScaleFor(r);
        const fmt = d3.format(`.${Y_DECIMALS[r]}f`);
        return (
          <g key={"ya" + r}>
            {Y_TICKS[r].map((t) => (
              <g key={t}>
                <line x1={LEFT - 3.5} x2={LEFT} y1={ys(t)} y2={ys(t)} stroke="#333333" strokeWidth={1} />
                <text x={LEFT - 6} y={ys(t)} dy="0.35em" textAnchor="end" fontSize={13} fill="#4d4d4d">{fmt(t)}</text>
              </g>
            ))}
          </g>
        );
      })}
      {COLUMNS.map((_, c) => {
        const xs = xScaleFor(c);
        return (
          <g key={"xa" + c}>
            {X_TICKS.map((t) => (
              <g key={t}>
                <line x1={xs(t)} x2={xs(t)} y1={panelsBottom} y2={panelsBottom + 3.5} stroke="#333333" strokeWidth={1} />
                <text x={xs(t)} y={panelsBottom + 13} dy="0.35em" textAnchor="middle" fontSize={13} fill="#4d4d4d">{t}</text>
              </g>
            ))}
          </g>
        );
      })}
      <text x={(LEFT + panelsRight) / 2} y={panelsBottom + 34} dy="0.35em" textAnchor="middle" fontSize={17} fill="#000000">Year</text>
      <text transform={`translate(18,${(TOP + panelsBottom) / 2}) rotate(-90)`} dy="0.35em" textAnchor="middle" fontSize={17} fill="#000000">Relative Cumulative Quantile Score</text>
      {SERIES.map((name, s) => {
        const lx = [432, 566][s];
        const ly = 1134;
        return (
          <g key={"lg" + s}>
            <line x1={lx} x2={lx + 16} y1={ly} y2={ly} stroke={COLORS[s]} strokeWidth={1.45} />
            <text x={lx + 25} y={ly} dy="0.35em" fontSize={14} fill="#1a1a1a">{name}</text>
          </g>
        );
      })}
    </svg>
  );
}
